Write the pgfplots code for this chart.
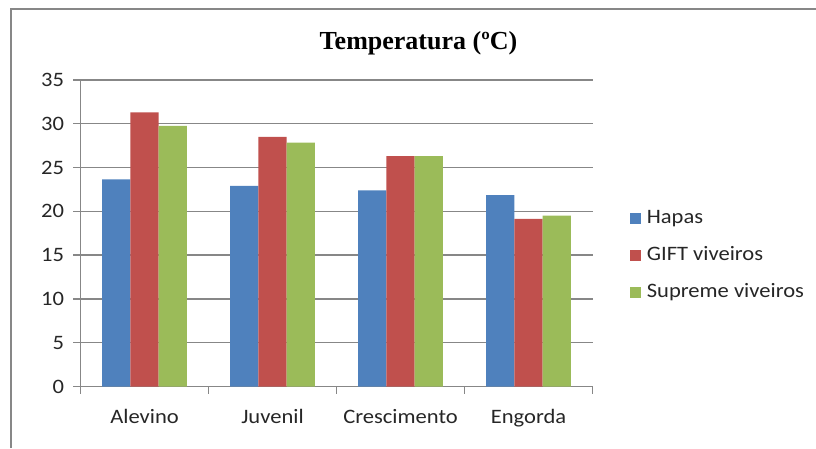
\documentclass[border=0pt]{standalone}
\usepackage{fontspec}
\setmainfont{Carlito}[FakeStretch=1.1]
\newfontfamily\titlefont{Liberation Serif}
\usepackage{pgfplots}
\pgfplotsset{compat=1.18}
\definecolor{cA}{HTML}{4F81BD}
\definecolor{cB}{HTML}{C0504D}
\definecolor{cC}{HTML}{9BBB59}
\definecolor{gridc}{HTML}{878787}
\begin{document}
\begin{tikzpicture}[x=1pt,y=1pt]
\path[use as bounding box] (0,0) rectangle (816,448);
\draw[gridc, line width=2pt] (10.5,0) -- (10.5,438.5) -- (816,438.5);
\node[anchor=base, font=\titlefont\bfseries\fontsize{26}{30}\selectfont] at (418.5,398) {Temperatura (ºC)};
\begin{axis}[
 at={(80.5pt,61.5pt)}, anchor=south west,
 scale only axis, width=512pt, height=306.5pt,
 ymin=0, ymax=35, ytick={0,5,...,35},
 xmin=-0.5, xmax=3.5,
 xtick={-0.5,0.5,1.5,2.5,3.5},
 xticklabels={Alevino,Juvenil,Crescimento,Engorda},
 x tick label as interval,
 axis x line*=bottom, axis y line*=left,
 axis line style={gridc, line width=1.3pt, -},
 tick align=outside,
 ymajorgrids, grid style={gridc, line width=1.3pt},
 major tick length=7pt, tick style={gridc, line width=1.3pt},
 ybar=0pt, bar width=28.3pt,
 every axis plot post/.append style={draw=none, legend image code/.code={\fill[##1] (0pt,-5.65pt) rectangle (11.3pt,5.65pt);}},
 ticklabel style={font=\fontsize{20.5}{24}\selectfont, text=black!85},
 xticklabel style={yshift=-12pt},
 yticklabel style={xshift=-6pt},
 /pgf/number format/assume math mode=true,
 legend style={at={(1.072,0.579)}, anchor=north west, draw=none, fill=none, inner sep=0pt,
   font=\fontsize{20.5}{24}\selectfont, text=black!85, row sep=19pt,
   nodes={inner sep=0pt, text height=14pt, text depth=4pt},
   /tikz/every odd column/.append style={column sep=6pt}},
 legend cell align=left,
 clip=false
]
\addplot[fill=cA] coordinates {(0,23.65) (1,22.9) (2,22.4) (3,21.85)};
\addplot[fill=cB] coordinates {(0,31.3) (1,28.5) (2,26.3) (3,19.15)};
\addplot[fill=cC] coordinates {(0,29.75) (1,27.85) (2,26.3) (3,19.5)};
\legend{Hapas, GIFT viveiros, Supreme viveiros}
\end{axis}
\end{tikzpicture}
\end{document}
